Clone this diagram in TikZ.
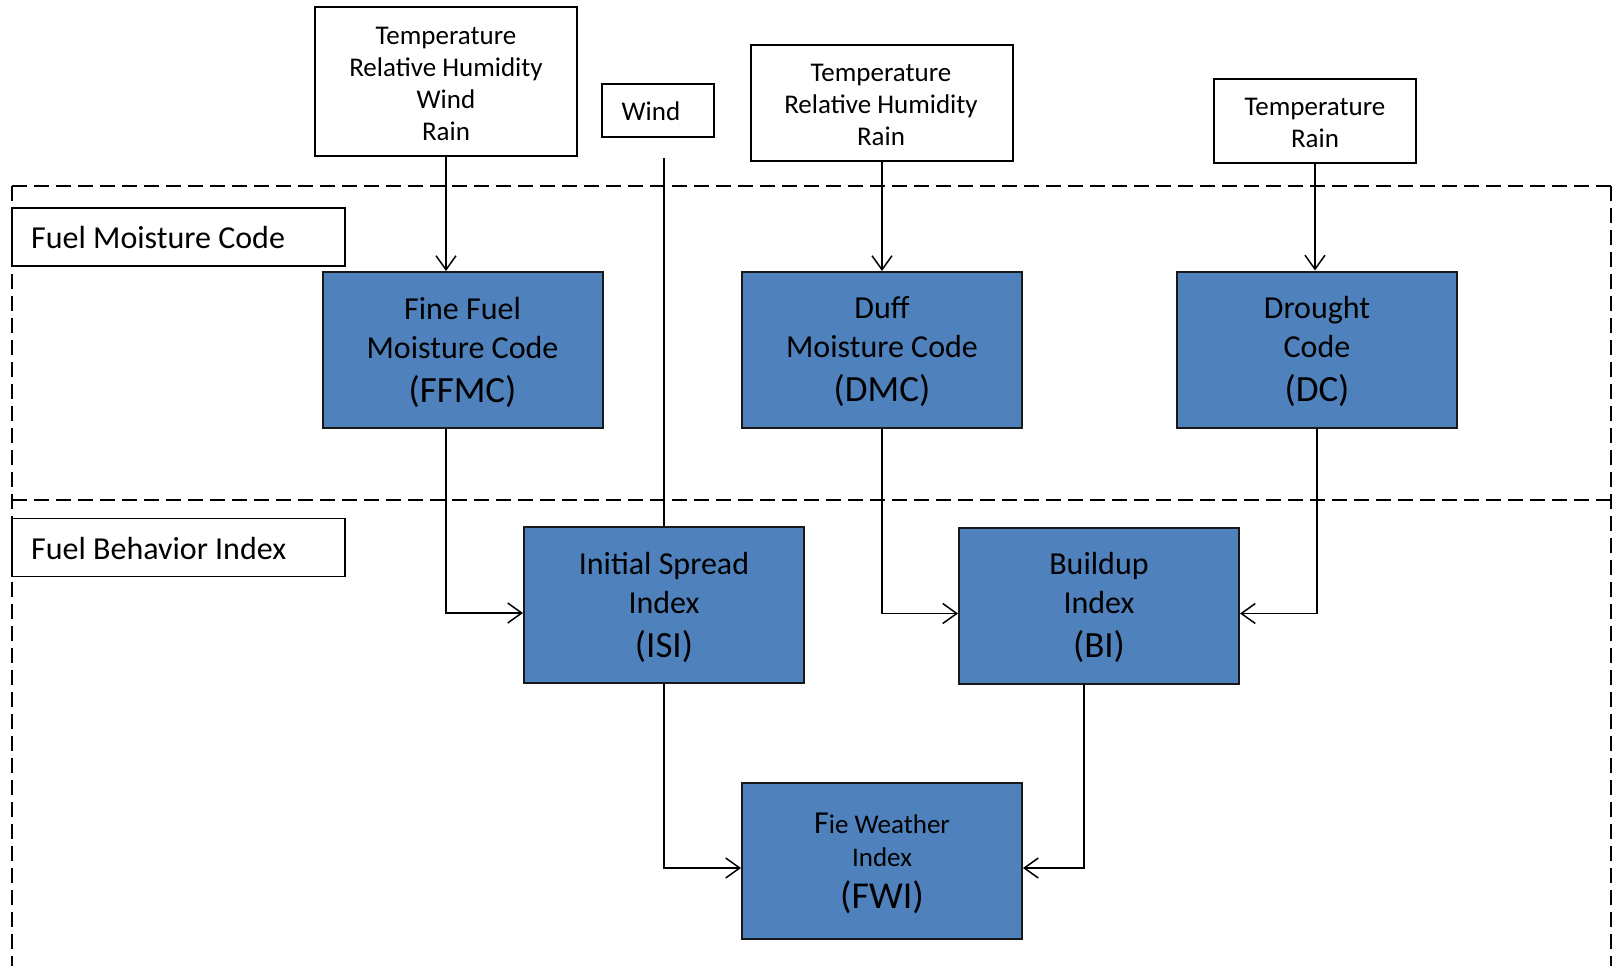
\documentclass[tikz,border=0pt]{standalone}
\usepackage{fontspec}
\setmainfont{Carlito}
\usetikzlibrary{arrows.meta,calc}
\definecolor{boxblue}{HTML}{4F81BD}
\begin{document}
\begin{tikzpicture}[x=1pt,y=-1pt,
  inbox/.style={draw=black,line width=1.6pt,fill=white,inner sep=0pt},
  intext/.style={align=center,inner sep=0pt,font=\fontsize{27}{32}\selectfont},
  bluebox/.style={draw=black!90,line width=2pt,fill=boxblue,inner sep=0pt,minimum width=280pt,minimum height=156pt},
  bluetext/.style={align=center,inner sep=0pt,font=\fontsize{32}{39}\selectfont},
  labelbox/.style={draw=black,line width=1.6pt,fill=white,inner sep=0pt,minimum width=333pt,minimum height=58pt},
  labeltext/.style={anchor=west,inner sep=0pt,font=\fontsize{32}{36}\selectfont},
  conn/.style={line width=1.5pt},
  arr/.style={conn,-{Straight Barb[length=14pt,width=20pt,line width=1.5pt]}},
  zoneline/.style={line width=2pt,dash pattern=on 15pt off 7pt}]
\useasboundingbox (0,0) rectangle (1612,966);
% dashed zones
\draw[zoneline] (12,186) -- (1611,186);
\draw[zoneline] (12,500) -- (1611,500);
\draw[zoneline] (12,186) -- (12,966);
\draw[zoneline] (1611,186) -- (1611,966);
% zone labels
\node[labelbox] (fmclabel) at (178.5,237) {};
\node[labeltext] (fmctext) at (31,238) {Fuel Moisture Code};
\node[labelbox] (fbilabel) at (178.5,547.5) {};
\node[labeltext] (fbitext) at (31,548.5) {Fuel Behavior Index};
% inputs
\node[inbox,minimum width=262pt,minimum height=149pt] (in1) at (446,81.5) {};
\node[intext] (in1t) at (446,84) {Temperature\\Relative Humidity\\Wind\\Rain};
\node[inbox,minimum width=112pt,minimum height=53pt] (wind) at (658,110.5) {};
\node[intext] (windt) at (651,111) {Wind};
\node[inbox,minimum width=262pt,minimum height=116pt] (in2) at (882,103) {};
\node[intext] (in2t) at (881,105) {Temperature\\Relative Humidity\\Rain};
\node[inbox,minimum width=202pt,minimum height=84pt] (in3) at (1315,121) {};
\node[intext] (in3t) at (1315,123) {Temperature\\Rain};
% codes
\node[bluebox] (ffmc) at (462.5,350) {};
\node[bluetext] (ffmct) at (462.5,352) {Fine Fuel\\Moisture Code\\[5pt]{\fontsize{37}{40}\selectfont (FFMC)}};
\node[bluebox] (dmc) at (882,350) {};
\node[bluetext] (dmct) at (882,352) {Duff\\Moisture Code\\[5pt]{\fontsize{37}{40}\selectfont (DMC)}};
\node[bluebox] (dc) at (1317,349.5) {};
\node[bluetext] (dct) at (1317,351.5) {Drought\\Code\\[5pt]{\fontsize{37}{40}\selectfont (DC)}};
\node[bluebox] (isi) at (664,605) {};
\node[bluetext] (isit) at (664,607) {Initial Spread\\Index\\[5pt]{\fontsize{37}{40}\selectfont (ISI)}};
\node[bluebox] (bi) at (1099,605.5) {};
\node[bluetext] (bit) at (1099,607.5) {Buildup\\Index\\[5pt]{\fontsize{37}{40}\selectfont (BI)}};
\node[bluebox] (fwi) at (882,861) {};
\node[bluetext,font=\fontsize{27}{33}\selectfont] (fwit) at (882,863.5) {{\fontsize{32}{33}\selectfont F}ie Weather\\Index\\[9pt]{\fontsize{38}{40}\selectfont (FWI)}};
% connectors
\coordinate (windtop) at (664,158);
\draw[conn] (windtop) -- (isi.north);
\draw[arr] (in1.south) -- (in1.south |- ffmc.north);
\draw[arr] (in2.south) -- (dmc.north);
\draw[arr] (in3.south) -- (in3.south |- dc.north);
\draw[arr] (ffmc.south -| in1.south) |- ($(isi.west)+(0,8)$);
\draw[arr] (dmc.south) |- ($(bi.west)+(0,8)$);
\draw[arr] (dc.south) |- ($(bi.east)+(0,8)$);
\draw[arr] (isi.south) |- ($(fwi.west)+(0,7)$);
\draw[arr] ($(bi.south)+(-15,0)$) |- ($(fwi.east)+(0,7)$);
\end{tikzpicture}
\end{document}
